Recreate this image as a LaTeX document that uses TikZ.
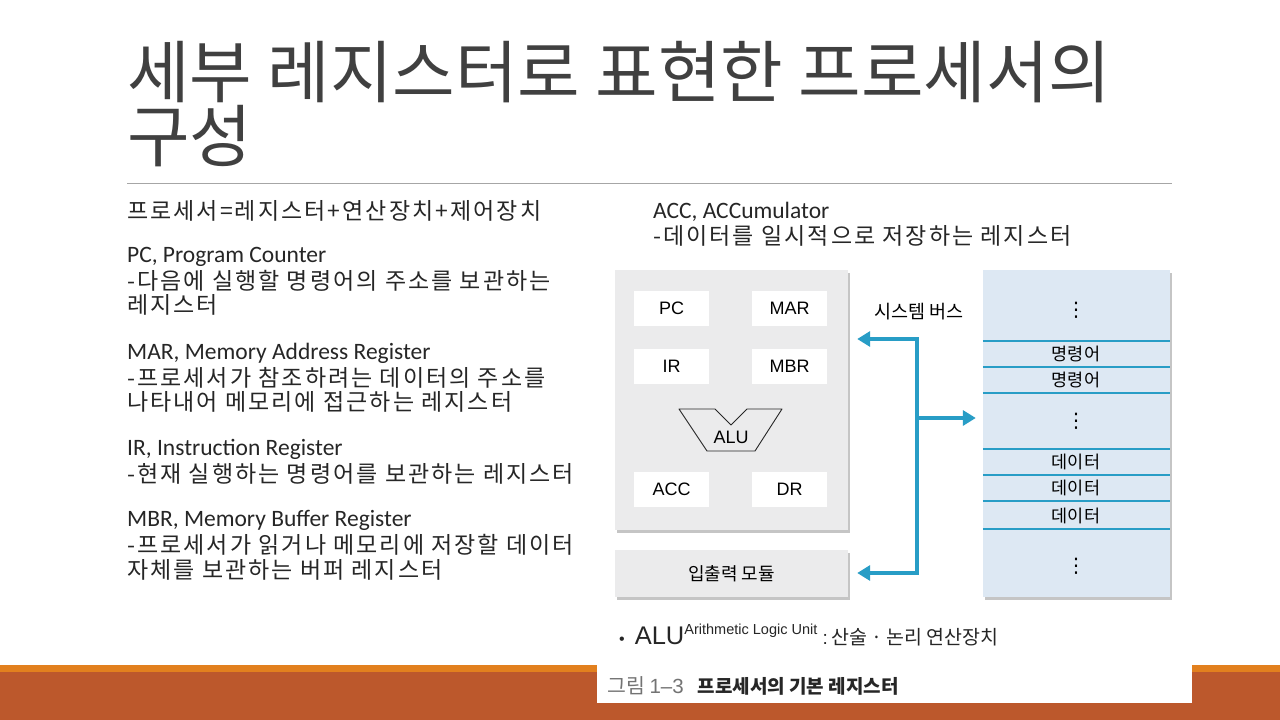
\documentclass[tikz,border=0pt]{standalone}
\usepackage{fontspec}
\setmainfont{Noto Sans CJK KR}
\newfontfamily\kofont{Noto Sans CJK KR}[LetterSpace=9]
\newfontfamily\latfont{Carlito}
\newfontfamily\figfont{Liberation Sans}
\newfontfamily\symfont{DejaVu Sans}
\usetikzlibrary{arrows.meta,positioning,shadows}
\definecolor{titlegray}{RGB}{64,64,64}
\definecolor{bodygray}{RGB}{38,38,38}
\definecolor{busblue}{RGB}{40,157,198}
\definecolor{cpufill}{RGB}{235,235,236}
\definecolor{memfill}{RGB}{221,232,243}
\definecolor{barorange}{RGB}{226,128,30}
\definecolor{barrust}{RGB}{188,88,44}
\newcommand{\engline}{\latfont\fontsize{23.5}{24}\selectfont}

\begin{document}
\begin{tikzpicture}[x=1pt, y=-1pt,
  heading/.style={anchor=base west, inner sep=0pt, text=titlegray, font=\fontsize{68}{70}\selectfont},
  body/.style={anchor=base west, inner sep=0pt, text height=17pt, text depth=3pt, text=bodygray, font=\kofont\fontsize{23}{24}\selectfont},
  panel/.style={inner sep=0pt, drop shadow={shadow xshift=2pt, shadow yshift=-3pt, fill=black!45, opacity=.5}},
  reg/.style={fill=white, minimum width=75pt, minimum height=35pt, inner sep=0pt, font=\figfont\fontsize{18}{18}\selectfont},
  cell/.style={inner sep=0pt, font=\fontsize{17.5}{18}\selectfont},
  vdot/.style={inner sep=0pt, font=\symfont\fontsize{20}{20}\selectfont},
  cellline/.style={draw=busblue, line width=1.3pt},
  bus/.style={draw=busblue, line width=4pt, >={Triangle[length=13pt,width=15pt]}}
]
\useasboundingbox[fill=white] (0,0) rectangle (1280,720);

% title and rule
\node[heading] (title1) at (127,97) {세부 레지스터로 표현한 프로세서의};
\node[heading] (title2) at (127,161) {구성};
\draw[black!35, line width=0.8pt] (127,183) -- (1172,183);

% left text
\foreach \yy/\txt [count=\i] in {
  219/{프로세서=레지스터+연산장치+제어장치},
  262/{\engline PC, Program Counter},
  289/{-다음에 실행할 명령어의 주소를 보관하는},
  313/{레지스터},
  359/{\engline MAR, Memory Address Register},
  386/{-프로세서가 참조하려는 데이터의 주소를},
  410/{나타내어 메모리에 접근하는 레지스터},
  455/{\engline IR, Instruction Register},
  482/{-현재 실행하는 명령어를 보관하는 레지스터},
  526/{\engline MBR, Memory Buffer Register},
  553/{-프로세서가 읽거나 메모리에 저장할 데이터},
  578/{자체를 보관하는 버퍼 레지스터}}
  \node[body] (line\i) at (127,\yy) {\txt};
\node[body] (acc1) at (653,218) {\engline ACC, ACCumulator};
\node[body] (acc2) at (653,244) {-데이터를 일시적으로 저장하는 레지스터};

% processor
\node[panel, fill=cpufill, minimum width=233pt, minimum height=260pt] (cpu) at (731.5,400) {};
\node[reg] (pc) at (671.5,308.5) {PC};
\node[reg] (mar) at (789.5,308.5) {MAR};
\node[reg] (ir) at (671.5,366.5) {IR};
\node[reg] (mbr) at (789.5,366.5) {MBR};
\node[reg] (acc) at (671.5,489.5) {ACC};
\node[reg] (dr) at (789.5,489.5) {DR};
\node[inner sep=0pt, font=\figfont\fontsize{18}{18}\selectfont] (alu) at (731,437) {ALU};
\draw[black!85, line width=0.9pt, line join=round, shift={(alu.center)}]
  (-52,-28) -- (-16,-28) -- (0,-12) -- (16,-28) -- (51,-28) -- (24,14) -- (-24,14) -- cycle;

% io module
\node[panel, fill=cpufill, minimum width=233pt, minimum height=47pt, font=\fontsize{18}{18}\selectfont] (io) at (731.5,573.5) {입출력 모듈};

% memory
\node[panel, fill=memfill, minimum width=187pt, minimum height=327pt] (mem) at (1076.5,433.5) {};
\foreach \yy in {341,367,393,449,475,501,529}
  \draw[cellline] (mem.west |- 0,\yy) -- (mem.east |- 0,\yy);
\node[vdot] (dots1) at (1076,310) {⋮};
\node[cell] (ins1) at (1076,354) {명령어};
\node[cell] (ins2) at (1076,380) {명령어};
\node[vdot] (dots2) at (1076,421) {⋮};
\node[cell] (dat1) at (1076,462) {데이터};
\node[cell] (dat2) at (1076,488) {데이터};
\node[cell] (dat3) at (1076,516) {데이터};
\node[vdot] (dots3) at (1076,566) {⋮};

% system bus
\node[inner sep=0pt, font=\fontsize{18.5}{19}\selectfont] (buslbl) at (919,312) {시스템 버스};
\coordinate (bustop) at (917,339);
\coordinate (busmid) at (917,418);
\coordinate (busbot) at (917,573);
\draw[bus, <->, line join=miter] ([xshift=9pt]io.east |- busbot) -- (busbot) -- (bustop) -- ([xshift=9pt]cpu.east |- bustop);
\draw[bus, ->] (busmid) -- ([xshift=-7pt]mem.west |- busmid);

% note
\node[anchor=base west, inner sep=0pt, text=bodygray] (note) at (619,644)
  {\figfont\fontsize{16}{16}\selectfont •\hspace{10pt}\fontsize{25.5}{25}\selectfont ALU\raisebox{10pt}{\fontsize{14.5}{14.5}\selectfont Arithmetic Logic Unit}\fontsize{19}{19}\selectfont\ :\,\normalfont\fontsize{19.5}{19.5}\selectfont 산술 · 논리 연산장치};

% footer
\fill[barorange] (0,665) rectangle (1280,672);
\fill[barrust] (0,672) rectangle (1280,720);
\fill[white] (597,665) rectangle (1192,703);
\node[anchor=west, inner sep=0pt] (caption) at (607,686)
  {\textcolor{black!55}{\fontsize{20.5}{20}\selectfont 그림 {\figfont 1–3}}\hspace{14pt}\textcolor{black!85}{\fontsize{19}{19}\selectfont\bfseries 프로세서의 기본 레지스터}};
\end{tikzpicture}
\end{document}
